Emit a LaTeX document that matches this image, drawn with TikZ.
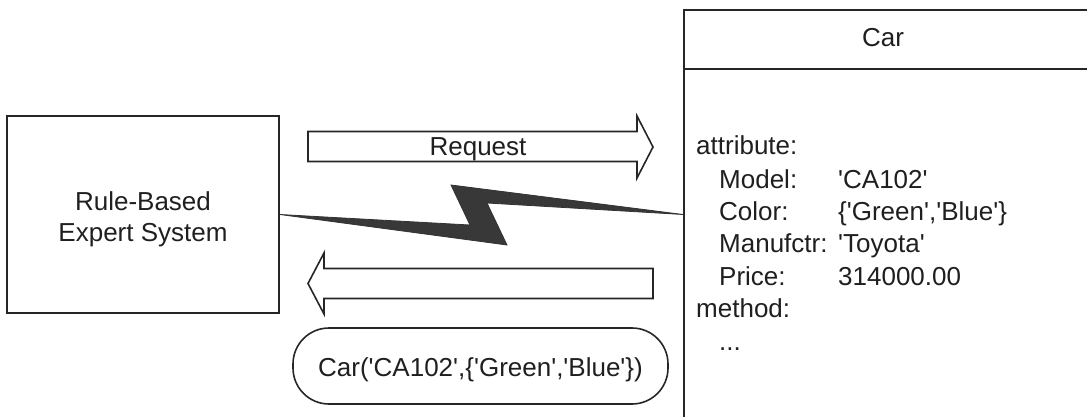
\documentclass[tikz,border=0pt]{standalone}
\usepackage{fontspec}
\newfontfamily\arialfont{Liberation Sans}
\usetikzlibrary{calc}
\tikzset{
  line/.style={line width=1.6pt, draw=black!85},
  lbl/.style={font=\arialfont\fontsize{26}{31}\selectfont, text=black!88, inner sep=0pt},
  blockarrow/.style={line, fill=white, line join=miter},
  bolt/.style={draw=black!80, fill=black!78, line width=0.8pt, line join=miter},
}
\begin{document}
\begin{tikzpicture}[x=1pt, y=-1pt]
\useasboundingbox (0,0) rectangle (1087,417);
\clip (0,0) rectangle (1087,417);

% expert system box
\node[line, rectangle, minimum width=272pt, minimum height=197pt, inner sep=0pt] (rbes) at (143,214.5) {};
\node[lbl, align=center] (rbestext) at (143,219) {Rule-Based\\Expert System};

% class box (runs past the right and bottom edges)
\node[line, rectangle, minimum width=420pt, minimum height=420pt, inner sep=0pt, anchor=north west] (car) at (683,9) {};
\coordinate (hdl) at (683,69);
\draw[line] (hdl) -- (hdl -| car.east);
\node[lbl, anchor=base] (cartitle) at (883,47) {Car};

\node[lbl, anchor=base west] (attr) at (696,155) {attribute:};
\node[lbl, anchor=base west] (kmodel) at (719,188) {Model:};
\node[lbl, anchor=base west] (kcolor) at (719,220) {Color:};
\node[lbl, anchor=base west] (kmanu) at (719,252) {Manufctr:};
\node[lbl, anchor=base west] (kprice) at (719,285) {Price:};
\node[lbl, anchor=base west] (meth) at (696,317) {method:};
\node[lbl, anchor=base west] (dots) at (719,350) {...};
\node[lbl, anchor=base west] (vmodel) at (838,188) {'CA102'};
\node[lbl, anchor=base west] (vcolor) at (838,220) {\{'Green','Blue'\}};
\node[lbl, anchor=base west] (vmanu) at (838,252) {'Toyota'};
\node[lbl, anchor=base west] (vprice) at (838,285) {314000.00};

% request arrow
\draw[blockarrow] (308,131.5) -- (637,131.5) -- (637,116) -- (653,147) -- (637,178)
  -- (637,161.5) -- (308,161.5) -- cycle;
\node[lbl, anchor=base] (req) at (478,156) {Request};

% reply arrow
\draw[blockarrow] (653,268.5) -- (324,268.5) -- (324,253) -- (308,283.5) -- (324,314)
  -- (324,298.5) -- (653,298.5) -- cycle;

% message object
\node[line, rectangle, rounded corners=36pt, minimum width=375pt, minimum height=76pt, inner sep=0pt] (msg) at (480.5,366) {};
\node[lbl, anchor=base] (msgtext) at (480.5,376) {Car('CA102',\{'Green','Blue'\})};

% lightning link between the two systems
\coordinate (boltL) at (rbes.east);
\coordinate (boltR) at (rbes.east -| car.west);
\filldraw[bolt] (boltL) -- (470,225) -- (451,185) -- (boltR) -- (487,203) -- (507,245) -- cycle;
\end{tikzpicture}
\end{document}
